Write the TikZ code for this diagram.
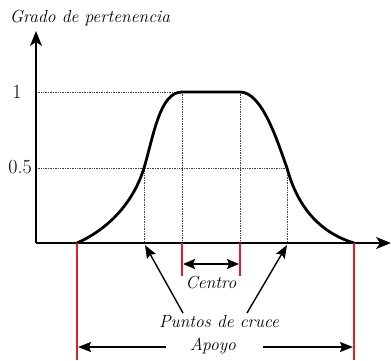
\documentclass[tikz,border=0pt]{standalone}
\usetikzlibrary{arrows.meta}
\definecolor{redbar}{RGB}{228,28,36}
\begin{document}
\begin{tikzpicture}[x=1pt,y=-1pt,
  axis/.style={line width=1.6pt,-{Stealth[length=15pt,width=12pt,inset=4pt]}},
  curve/.style={line width=2.8pt,line join=round},
  guide/.style={densely dotted,line width=0.7pt,black!75},
  redline/.style={line width=2.2pt,redbar},
  pointer/.style={line width=1.4pt,-{Stealth[length=13pt,width=10pt,inset=2pt]}},
  dblarrow/.style={line width=1.6pt,{Stealth[length=12pt,width=10pt,inset=2pt]}-{Stealth[length=12pt,width=10pt,inset=2pt]}},
  lbl/.style={font=\fontsize{17.5}{20}\selectfont\itshape,inner sep=0pt},
  num/.style={font=\fontsize{20}{22}\selectfont,inner sep=0pt}]
\useasboundingbox (0,0) rectangle (391,360);
% key coordinates
\coordinate (O) at (36,243);
\coordinate (ytop) at (36,31);
\coordinate (xend) at (391,243);
\coordinate (A) at (77,243);
\coordinate (CL) at (144,243);
\coordinate (PL) at (182,243);
\coordinate (PR) at (240,243);
\coordinate (CR) at (287,243);
\coordinate (B) at (354,243);
\coordinate (top1) at (36,92);
\coordinate (half) at (36,168);
\coordinate (L1) at (182,92);
\coordinate (R1) at (240,92);
\coordinate (LH) at (144,168);
\coordinate (RH) at (287,168);
% guides
\draw[guide] (top1) -- (L1);
\draw[guide] (half) -- (RH);
\draw[guide] (LH) -- (CL);
\draw[guide] (L1) -- (PL);
\draw[guide] (R1) -- (PR);
\draw[guide] (RH) -- (CR);
% curve
\draw[curve] (A) .. controls (100,233) and (131,210) .. (LH)
  .. controls (154,134) and (160,92) .. (L1) -- (R1)
  .. controls (262,92) and (277,140) .. (RH)
  .. controls (297,205) and (318,232) .. (B);
% axes
\draw[axis] (O) -- (ytop);
\draw[axis] (O) -- (xend);
% red lines
\coordinate (Abot) at (77,360);
\coordinate (Bbot) at (354,360);
\coordinate (PLbot) at (182,276);
\coordinate (PRbot) at (240,276);
\draw[redline] (A) -- (Abot);
\draw[redline] (B) -- (Bbot);
\draw[redline] (PL) -- (PLbot);
\draw[redline] (PR) -- (PRbot);
% labels
\node[lbl] (ylabel) at (90,18) {Grado de pertenencia};
\node[num] (one) at (17,92) {1};
\node[num] (pfive) at (20,167) {0.5};
\node[lbl] (centro) at (211,283) {Centro};
\node[lbl] (puntos) at (219,322) {Puntos de cruce};
\node[lbl] (apoyo) at (213,346) {Apoyo};
% arrows
\coordinate (cl) at (183,264);
\coordinate (cr) at (239,264);
\draw[dblarrow] (cl) -- (cr);
\coordinate (pl0) at (183,313);
\coordinate (pr0) at (247,313);
\coordinate (pl1) at (145,245);
\coordinate (pr1) at (287,245);
\draw[pointer] (pl0) -- (pl1);
\draw[pointer] (pr0) -- (pr1);
\coordinate (al0) at (166,347);
\coordinate (ar0) at (263,347);
\coordinate (al1) at (78,347);
\coordinate (ar1) at (353,347);
\draw[pointer,line width=1.6pt] (al0) -- (al1);
\draw[pointer,line width=1.6pt] (ar0) -- (ar1);
\end{tikzpicture}
\end{document}
